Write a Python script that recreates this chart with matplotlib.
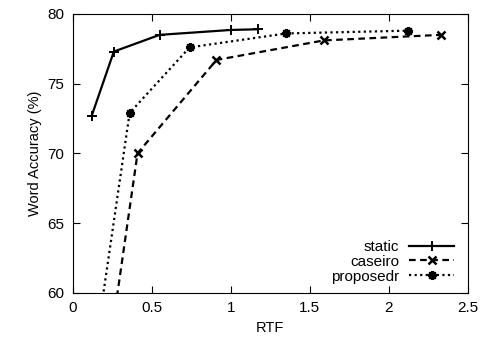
import matplotlib
matplotlib.use('Agg')
import matplotlib.pyplot as plt

plt.rcParams['font.family'] = ['Liberation Sans', 'DejaVu Sans']

# RTF vs word accuracy for each system
static_rtf = [0.12, 0.26, 0.55, 1.0, 1.17]
static_acc = [72.7, 77.3, 78.5, 78.85, 78.9]

caseiro_rtf = [0.22, 0.41, 0.91, 1.59, 2.33]
caseiro_acc = [55.0, 70.0, 76.7, 78.1, 78.5]

proposedr_rtf = [0.13, 0.36, 0.74, 1.35, 2.12]
proposedr_acc = [55.0, 72.9, 77.6, 78.6, 78.8]

x_ticks = [0, 0.5, 1, 1.5, 2, 2.5]
y_ticks = [60, 65, 70, 75, 80]

fig = plt.figure(figsize=(4.82, 3.40), dpi=100)
ax = fig.add_axes([0.151, 0.139, 0.819, 0.820])

ax.plot(static_rtf, static_acc, color='black', linewidth=1.6, linestyle='-',
        marker='+', markersize=7, markeredgewidth=1.4, label='static')
ax.plot(caseiro_rtf, caseiro_acc, color='black', linewidth=1.6, linestyle=(0, (3, 2)),
        marker='x', markersize=6, markeredgewidth=1.8, label='caseiro')
ax.plot(proposedr_rtf, proposedr_acc, color='black', linewidth=1.6, linestyle=(0, (1, 1.5)),
        marker=(8, 2, 0), markersize=6.5, markeredgewidth=1.5, label='proposedr')

ax.set_xlim(0, 2.5)
ax.set_ylim(60, 80)
ax.set_xticks(x_ticks)
ax.set_xticklabels(['0', '0.5', '1', '1.5', '2', '2.5'])
ax.set_yticks(y_ticks)
ax.tick_params(direction='in', top=True, right=True, labelsize=11, length=5, pad=6)
ax.set_xlabel('RTF', fontsize=10.5)
ax.set_ylabel('Word Accuracy (%)', fontsize=10.5)

ax.legend(loc='lower right', frameon=False, markerfirst=False, fontsize=11,
          handlelength=3.0, handletextpad=0.6, labelspacing=0.05,
          borderaxespad=0.2, bbox_to_anchor=(0.99, 0.0))

fig.savefig('out.png', dpi=100)
